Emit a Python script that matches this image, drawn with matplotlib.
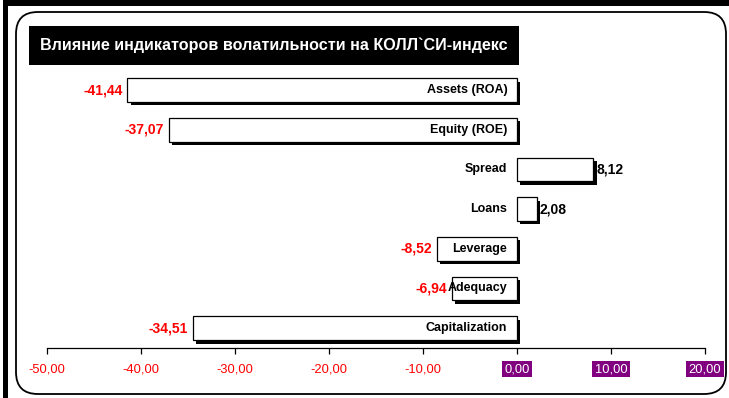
import matplotlib
matplotlib.use("Agg")
import matplotlib.pyplot as plt
import matplotlib.patheffects as pe
from matplotlib.patches import FancyBboxPatch, Rectangle

categories = ["Assets (ROA)", "Equity (ROE)", "Spread", "Loans", "Leverage", "Adequacy", "Capitalization"]
values = [-41.44, -37.07, 8.12, 2.08, -8.52, -6.94, -34.51]
tick_values = [-50, -40, -30, -20, -10, 0, 10, 20]
title = "Влияние индикаторов волатильности на КОЛЛ`СИ-индекс"

plt.rcParams["font.family"] = ["Liberation Sans", "DejaVu Sans"]

def fmt(v):
    return f"{v:.2f}".replace(".", ",")

fig = plt.figure(figsize=(7.29, 3.98), dpi=100)
fig.patch.set_facecolor("white")

# page decorations: black strips and rounded chart frame
fig.add_artist(Rectangle((3 / 729, 0), 5 / 729, 1, transform=fig.transFigure,
                         facecolor="black", edgecolor="none", zorder=-2))
fig.add_artist(Rectangle((8 / 729, 1 - 6 / 398), 1, 6 / 398, transform=fig.transFigure,
                         facecolor="black", edgecolor="none", zorder=-2))
fig.add_artist(FancyBboxPatch((16 / 729, 4 / 398), 710 / 729, 382 / 398,
                              boxstyle="round,pad=0,rounding_size=0.03",
                              transform=fig.transFigure, facecolor="none",
                              edgecolor="black", linewidth=1.3, mutation_aspect=729 / 398,
                              zorder=-1))

ax = fig.add_axes([47 / 729, 1 - 348 / 398, 658 / 729, (348 - 70.2) / 398])
ax.set_facecolor("none")
ypos = list(range(len(categories)))
bars = ax.barh(ypos, values, height=0.6, color="white", edgecolor="black", linewidth=0.9)
for b in bars:
    b.set_path_effects([pe.SimplePatchShadow(offset=(2.5, -2.5), shadow_rgbFace="black", alpha=1.0),
                        pe.Normal()])

ax.set_xlim(-50, 20)
ax.set_ylim(len(categories) - 0.5, -0.5)

for y, (c, v) in enumerate(zip(categories, values)):
    ax.annotate(c, (0, y), xytext=(-7, 0), textcoords="offset points",
                ha="right", va="center", fontsize=9, fontweight="bold", color="black")
    if v < 0:
        ax.annotate(fmt(v), (v, y), xytext=(-3.5, 0), textcoords="offset points",
                    ha="right", va="center", fontsize=10, fontweight="bold", color="red")
    else:
        ax.annotate(fmt(v), (v, y), xytext=(2, 0), textcoords="offset points",
                    ha="left", va="center", fontsize=10, fontweight="bold", color="black")

ax.set_xticks(tick_values)
ax.set_xticklabels([fmt(t) for t in tick_values])
ax.set_yticks([])
for s in ["left", "top", "right"]:
    ax.spines[s].set_visible(False)
ax.spines["bottom"].set_linewidth(0.9)
ax.tick_params(axis="x", direction="out", length=4, width=0.9, pad=7, labelsize=9.3)
for t, lab in zip(tick_values, ax.get_xticklabels()):
    if t < 0:
        lab.set_color("red")
    else:
        lab.set_color("white")
        lab.set_bbox(dict(facecolor="#800080", edgecolor="none", pad=1.6))

fig.text(40 / 729, 1 - 45.5 / 398, title, fontsize=11.6, fontweight="bold", color="white",
         ha="left", va="center",
         bbox=dict(facecolor="black", edgecolor="none", boxstyle="square,pad=0.7"))

fig.savefig("out.png", dpi=100)
